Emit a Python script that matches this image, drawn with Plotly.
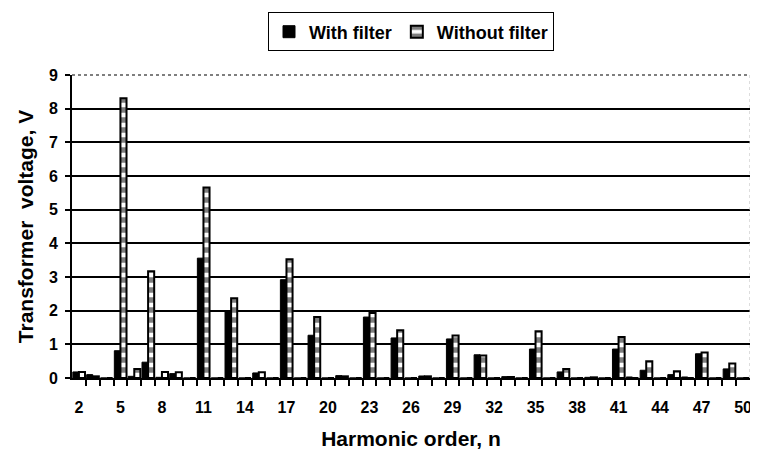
import plotly.graph_objects as go

harmonics = list(range(2, 51))
with_filter = [0.18, 0.10, 0.0, 0.81, 0.05, 0.47, 0.02, 0.13, 0.0, 3.56,
               0.0, 2.00, 0.0, 0.15, 0.0, 2.92, 0.0, 1.27, 0.0, 0.07,
               0.0, 1.81, 0.0, 1.19, 0.0, 0.06, 0.0, 1.16, 0.0, 0.69,
               0.0, 0.04, 0.0, 0.86, 0.0, 0.18, 0.0, 0.02, 0.0, 0.86,
               0.03, 0.23, 0.0, 0.10, 0.03, 0.72, 0.0, 0.27, 0.0]
without_filter = [0.18, 0.05, 0.0, 8.31, 0.27, 3.17, 0.18, 0.17, 0.0, 5.66,
                  0.0, 2.37, 0.0, 0.17, 0.0, 3.53, 0.0, 1.81, 0.0, 0.05,
                  0.0, 1.93, 0.0, 1.42, 0.0, 0.05, 0.0, 1.26, 0.0, 0.67,
                  0.0, 0.03, 0.0, 1.39, 0.0, 0.27, 0.0, 0.02, 0.0, 1.22,
                  0.0, 0.50, 0.0, 0.20, 0.0, 0.76, 0.0, 0.43, 0.0]
x_tick_vals = list(range(2, 51, 3))
x_tick_text = [str(v) for v in x_tick_vals]
y_ticks = list(range(0, 10))

fig = go.Figure()
fig.add_trace(go.Bar(
    x=harmonics, y=with_filter, name="With filter",
    marker=dict(color="black", line=dict(color="black", width=1)),
))
fig.add_trace(go.Bar(
    x=harmonics, y=without_filter, name="Without filter",
    marker=dict(color="white", line=dict(color="black", width=2),
                pattern=dict(shape="-", fgcolor="black", bgcolor="white",
                             size=10, solidity=0.55, fillmode="overlay")),
))

font_family = "Liberation Sans, Arial, sans-serif"
# page body adds an 8px offset, so the figure is drawn 8px smaller
fig.update_layout(
    width=750, height=449,
    margin=dict(l=64, r=8, t=67, b=79, autoexpand=False),
    paper_bgcolor="white", plot_bgcolor="white",
    barmode="group", bargap=0.12, bargroupgap=0.0,
    font=dict(family=font_family, color="black", size=15),
    showlegend=True,
    legend=dict(orientation="h", x=0.5, xanchor="center", y=0.99, yref="container",
                yanchor="top", bordercolor="black", borderwidth=1,
                font=dict(size=18, family=font_family, color="black", weight="bold"),
                itemwidth=30, traceorder="normal"),
    xaxis=dict(
        range=[1.5, 50.5], tickmode="array", tickvals=x_tick_vals, ticktext=x_tick_text,
        ticks="", showgrid=False, showline=True, linecolor="black", linewidth=2,
        tickfont=dict(size=16, weight="bold"), zeroline=False, ticklabelstandoff=14,
        minor=dict(tickmode="array", tickvals=[h + 0.5 for h in harmonics[:-1]],
                   ticks="outside", ticklen=6, tickcolor="black", tickwidth=1.5,
                   showgrid=False),
        title=dict(text="<b>Harmonic order, n</b>", font=dict(size=21), standoff=16),
    ),
    yaxis=dict(
        range=[0, 9], tickmode="array", tickvals=y_ticks,
        ticks="outside", ticklen=5, tickcolor="black", tickwidth=1.5,
        showgrid=False, showline=True, linecolor="black", linewidth=2,
        tickfont=dict(size=16, weight="bold"), zeroline=False, ticklabelstandoff=4,
        minor=dict(tickmode="array", tickvals=y_ticks[1:-1], ticks="",
                   showgrid=True, gridcolor="black", gridwidth=1.5),
        title=dict(text="<b>Transformer  voltage, V</b>", font=dict(size=21), standoff=10),
    ),
    shapes=[
        dict(type="line", xref="paper", yref="paper", x0=0, x1=1, y0=1, y1=1,
             line=dict(color="#555555", width=1.5, dash="dot")),
        dict(type="line", xref="paper", yref="paper", x0=1, x1=1, y0=0, y1=1,
             line=dict(color="#bbbbbb", width=1, dash="dot")),
    ],
)

fig.write_html("out.html")
